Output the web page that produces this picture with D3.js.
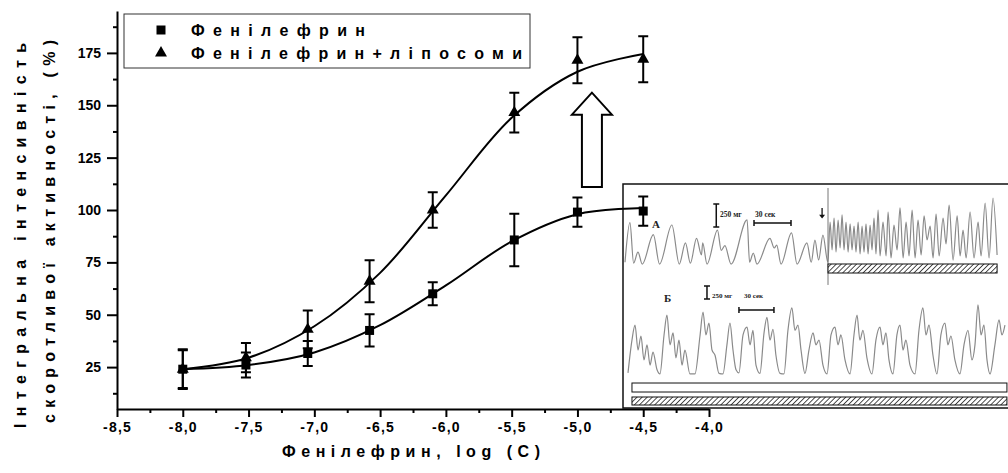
<!DOCTYPE html>
<html>
<head>
<meta charset="utf-8">
<script src="https://cdn.jsdelivr.net/npm/d3@7"></script>
<style>
  body { margin: 0; background: #fff; }
  svg { display: block; font-family: "Liberation Sans", Arial, sans-serif; }
</style>
</head>
<body>
<svg id="chart" width="1008" height="473"></svg>
<script>
// --- data ---
const logC = [-8.0, -7.52, -7.05, -6.58, -6.1, -5.48, -5.0, -4.5];
const phenyl = [24, 26, 31.5, 42.5, 60, 85.7, 99, 99.5];
const phenylErr = [9, 6, 6, 7.7, 5.5, 12.5, 7, 7];
const phenylLipo = [24, 29.5, 43, 66, 100, 146.5, 171.5, 172];
const phenylLipoErr = [9.5, 7, 9, 10, 8.5, 9.5, 11, 11];

// fitted curves, read at half-log steps
const fitX = [-8, -7.5, -7, -6.5, -6, -5.5, -5, -4.5];
const fitPhenyl = [24, 26, 32, 45, 64, 85, 98, 101];
const fitPhenylLipo = [24, 29.5, 44.5, 70, 107, 144, 166, 174.5];

const seriesNames = ['Фенілефрин', 'Фенілефрин+ліпосоми'];
const xTicks = [-8.5, -8, -7.5, -7, -6.5, -6, -5.5, -5, -4.5, -4];
const xMinor = [-8.25, -7.75, -7.25, -6.75, -6.25, -5.75, -5.25, -4.75, -4.25];
const yTicks = [25, 50, 75, 100, 125, 150, 175];
const yMinor = [12.5, 37.5, 62.5, 87.5, 112.5, 137.5, 162.5, 187.5];
const xTitle = 'Фенілефрин, log (C)';
const yTitle = ['Інтегральна інтенсивність', 'скоротливої активності, (%)'];

// big arrow: log position, base, head start, tip (in %)
const arrowX = -4.89;
const arrowY = [111, 145.5, 156];

// inset recordings: [time, sec ; force, mg]
const traceA = [[0,30],[4,460],[7,20],[10.5,140],[14,10],[23,330],[28,10],[38,435],[44,10],[49,240],[53,20],[58,290],[62,110],[63,240],[66.5,10],[75,380],[78,160],[81,210],[86,10],[99,490],[101,30],[104,130],[107,10],[117.5,290],[121,185],[123,215],[126.5,10],[135,350],[139.5,10],[147.5,240],[151,30],[154,270],[157,55],[160.5,325],[164.5,30],
  [166.3,467],[167.9,163],[169.5,511],[171.1,141],[172.8,489],[174.4,185],[176,544],[177.6,163],[179.2,467],[180.9,141],[182.5,446],[184.1,163],[185.7,424],[187.3,141],[189,467],[190.6,120],[192.2,424],[193.8,141],[195.4,446],[197.1,120],[198.7,435],[200.3,163],[201.9,511],[203.5,120],[205.2,598],[206.8,98],[209.2,467],[211.7,98],[213.3,576],[215.7,76],[218.1,435],[220.6,163],[223,620],[225.5,76],[227.9,467],[230.3,98],[232.8,598],[235.2,76],[237.6,489],[240.1,109],[242.5,533],[244.9,272],[247.4,424],[249.8,76],[252.2,554],[254.7,98],[257.9,511],[260.3,228],[262.8,652],[266,54],[269.3,533],[271.7,98],[274.1,380],[276.6,76],[279.8,576],[283,76],[286.3,467],[288.7,98],[292,674],[295.2,76],[298.4,728],[301.7,109]];
const traceB = [[0,40],[3.4,670],[6,960],[8.6,480],[11.1,750],[13.7,290],[16.3,580],[18.9,190],[21.4,440],[24.9,100],[27.4,20],
  [30.9,770],[33.4,1150],[36,580],[38.6,810],[41.1,330],[43.7,670],[46.3,190],[48.8,480],[53.1,20],
  [57.4,20],[61.7,750],[64.3,1210],[66.8,770],[69.4,1000],[72,480],[74.6,380],[78,30],
  [81.4,20],[84.8,580],[87.4,1000],[90,480],[92.6,100],
  [95.1,40],[98.6,770],[102,920],[104.6,580],[107.1,860],[109.7,190],
  [113.1,30],[116.6,810],[119.1,1110],[121.7,670],[124.3,880],[126.8,380],[130.3,30],
  [133.7,20],[137.1,860],[140.5,1290],[143.1,860],[145.7,960],[148.3,480],[151.7,30],
  [155.1,480],[158.6,810],[161.1,580],[163.7,670],[167.1,190],[170.6,20],
  [174,770],[177.4,920],[180,580],[182.5,770],[186,290],[190.3,20],
  [193.7,770],[196.3,1150],[198.8,670],[201.4,860],[204.8,330],[209.1,20],
  [212.5,670],[216,920],[218.5,580],[221.1,810],[223.7,290],[227.1,20],
  [230.5,770],[233.1,960],[235.7,480],[238.2,670],[241.7,190],[246,20],
  [249.4,860],[252.8,1290],[255.4,770],[258,960],[261.4,380],[264.8,20],
  [268.2,770],[271.7,1000],[274.2,580],[276.8,750],[280.2,290],[284.5,20],
  [288,580],[291.4,860],[294.8,290],[297.4,580],[300,1350],[302.6,770],[305.1,960],[307.7,290],[310.3,20],
  [314.5,580],[318,1060],[320.5,770],[323.1,960]];
const drugT = 164.6;          // drug applied (trace A)
const hatchA = [164.6, 301.7];
const barsB = [3.4, 324.8];

const svg = d3.select('#chart');
const defs = svg.append('defs');
defs.append('pattern')
  .attr('id', 'hatch')
  .attr('patternUnits', 'userSpaceOnUse')
  .attr('width', 3.6).attr('height', 3.6)
  .attr('patternTransform', 'rotate(45)')
  .call(p => p.append('rect').attr('width', 3.6).attr('height', 3.6).attr('fill', '#fff'))
  .append('line')
  .attr('x1', 0).attr('y1', 0).attr('x2', 0).attr('y2', 3.6)
  .attr('stroke', '#222').attr('stroke-width', 1.6);

const x = d3.scaleLinear().domain([-8.5, -4.0]).range([117, 709]);
const y = d3.scaleLinear().domain([5, 195]).range([409, 11]);

// ---------- inset ----------
const inset = svg.append('g').attr('class', 'inset');
inset.append('rect')
  .attr('x', 623).attr('y', 184).attr('width', 400).attr('height', 224)
  .attr('fill', '#fff').attr('stroke', '#111').attr('stroke-width', 1.5);

const xA = d3.scaleLinear().domain([0, 300]).range([625, 995]);
const yA = d3.scaleLinear().domain([0, 500]).range([265, 219]);
const xB = d3.scaleLinear().domain([0, 300]).range([628, 978]);
const yB = d3.scaleLinear().domain([0, 1000]).range([375, 323]);

inset.append('path')
  .attr('d', d3.line().x(d => xA(d[0])).y(d => yA(d[1])).curve(d3.curveMonotoneX)(traceA))
  .attr('fill', 'none').attr('stroke', '#8a8a8a').attr('stroke-width', 1.2);
inset.append('path')
  .attr('d', d3.line().x(d => xB(d[0])).y(d => yB(d[1])).curve(d3.curveMonotoneX)(traceB))
  .attr('fill', 'none').attr('stroke', '#8a8a8a').attr('stroke-width', 1.2);

// drug marker line and arrow
inset.append('line')
  .attr('x1', xA(drugT)).attr('x2', xA(drugT))
  .attr('y1', yA(837)).attr('y2', yA(-217))
  .attr('stroke', '#777').attr('stroke-width', 1);
inset.append('line')
  .attr('x1', xA(159.8)).attr('x2', xA(159.8))
  .attr('y1', yA(620)).attr('y2', yA(530))
  .attr('stroke', '#111').attr('stroke-width', 1.3);
inset.append('path')
  .attr('d', `M${xA(159.8) - 3},${yA(545)} L${xA(159.8) + 3},${yA(545)} L${xA(159.8)},${yA(505)} Z`)
  .attr('fill', '#111');

inset.append('rect')
  .attr('x', xA(hatchA[0])).attr('width', xA(hatchA[1]) - xA(hatchA[0]))
  .attr('y', yA(11)).attr('height', yA(-87) - yA(11))
  .attr('fill', 'url(#hatch)').attr('stroke', '#111').attr('stroke-width', 1);

inset.append('rect')
  .attr('x', xB(barsB[0])).attr('width', xB(barsB[1]) - xB(barsB[0]))
  .attr('y', yB(-154)).attr('height', yB(-327) - yB(-154))
  .attr('fill', '#fff').attr('stroke', '#111').attr('stroke-width', 1);
inset.append('rect')
  .attr('x', xB(barsB[0])).attr('width', xB(barsB[1]) - xB(barsB[0]))
  .attr('y', yB(-423)).attr('height', yB(-577) - yB(-423))
  .attr('fill', 'url(#hatch)').attr('stroke', '#111').attr('stroke-width', 1);

// scale bars
const scaleBar = (g, sx, sy, t0, mg0, mg1, s0, s1, sAt) => {
  const cap = 3;
  g.append('path')
    .attr('d', `M${sx(t0) - cap},${sy(mg1)}H${sx(t0) + cap}M${sx(t0)},${sy(mg1)}V${sy(mg0)}M${sx(t0) - cap},${sy(mg0)}H${sx(t0) + cap}` +
      `M${sx(s0)},${sy(sAt) - cap}V${sy(sAt) + cap}M${sx(s0)},${sy(sAt)}H${sx(s1)}M${sx(s1)},${sy(sAt) - cap}V${sy(sAt) + cap}`)
    .attr('fill', 'none').attr('stroke', '#111').attr('stroke-width', 1.5);
};
scaleBar(inset, xA, yA, 74, 413, 663, 104.6, 134.6, 456);
scaleBar(inset, xB, yB, 67.7, 1461, 1711, 95.1, 125.1, 1250);

const serif = '"Liberation Serif", "DejaVu Serif", serif';
inset.append('text').attr('x', 720).attr('y', 217).attr('font-family', serif)
  .attr('font-weight', 'bold').attr('font-size', 7.5).attr('fill', '#222').text('250 мг');
inset.append('text').attr('x', 755).attr('y', 217).attr('font-family', serif)
  .attr('font-weight', 'bold').attr('font-size', 7.5).attr('fill', '#222').text('30 сек');
inset.append('text').attr('x', 712).attr('y', 298).attr('font-family', serif)
  .attr('font-weight', 'bold').attr('font-size', 7).attr('fill', '#222').text('250 мг');
inset.append('text').attr('x', 744).attr('y', 298).attr('font-family', serif)
  .attr('font-weight', 'bold').attr('font-size', 7).attr('fill', '#222').text('30 сек');
inset.append('text').attr('x', 652).attr('y', 228).attr('font-family', serif)
  .attr('font-weight', 'bold').attr('font-size', 11).attr('fill', '#222').text('А');
inset.append('text').attr('x', 664).attr('y', 302).attr('font-family', serif)
  .attr('font-weight', 'bold').attr('font-size', 11).attr('fill', '#222').text('Б');

// ---------- axes ----------
const fmt = d => d3.format('.1f')(d).replace('.', ',').replace('−', '-');

const xAxis = svg.append('g').attr('transform', 'translate(0,409)')
  .call(d3.axisBottom(x).tickValues(xTicks).tickSize(8).tickSizeOuter(0).tickPadding(5).tickFormat(fmt));
svg.append('g').attr('transform', 'translate(0,409)')
  .call(d3.axisBottom(x).tickValues(xMinor).tickSize(4).tickFormat(''))
  .call(g => g.select('.domain').remove());

const yAxis = svg.append('g').attr('transform', 'translate(117,0)')
  .call(d3.axisLeft(y).tickValues(yTicks).tickSize(10).tickSizeOuter(0).tickPadding(6));
svg.append('g').attr('transform', 'translate(117,0)')
  .call(d3.axisLeft(y).tickValues(yMinor).tickSize(4).tickFormat(''))
  .call(g => g.select('.domain').remove());

svg.selectAll('.domain, .tick line').attr('stroke', '#000').attr('stroke-width', 2);
svg.selectAll('.tick text')
  .attr('font-family', '"Liberation Sans", Arial, sans-serif')
  .attr('font-weight', 'bold').attr('font-size', 14).attr('fill', '#000');
xAxis.selectAll('.tick text').attr('letter-spacing', 1.2);

// axis titles
svg.append('text')
  .attr('x', 282).attr('y', 457)
  .attr('textLength', 258).attr('lengthAdjust', 'spacing')
  .attr('font-weight', 'bold').attr('font-size', 16)
  .text(xTitle);
svg.append('text')
  .attr('transform', 'translate(26,428) rotate(-90)')
  .attr('textLength', 385).attr('lengthAdjust', 'spacing')
  .attr('font-weight', 'bold').attr('font-size', 16)
  .text(yTitle[0]);
svg.append('text')
  .attr('transform', 'translate(55,423) rotate(-90)')
  .attr('textLength', 383).attr('lengthAdjust', 'spacing')
  .attr('font-weight', 'bold').attr('font-size', 16)
  .text(yTitle[1]);

// ---------- big hollow arrow ----------
const ax = x(arrowX);
svg.append('path')
  .attr('d', `M${ax - 10},${y(arrowY[0])} V${y(arrowY[1])} H${ax - 20} L${ax},${y(arrowY[2])} L${ax + 20},${y(arrowY[1])} H${ax + 10} V${y(arrowY[0])} Z`)
  .attr('fill', '#fff').attr('stroke', '#000').attr('stroke-width', 2);

// ---------- fitted curves ----------
const fitLine = d3.line().x(d => x(d[0])).y(d => y(d[1])).curve(d3.curveCatmullRom);
[fitPhenyl, fitPhenylLipo].forEach(vals => {
  svg.append('path')
    .attr('d', fitLine(fitX.map((v, i) => [v, vals[i]])))
    .attr('fill', 'none').attr('stroke', '#000').attr('stroke-width', 2);
});

// ---------- error bars + markers ----------
const drawSeries = (vals, errs, symbol, size) => {
  const pts = logC.map((c, i) => ({ c, v: vals[i], e: errs[i] }));
  const g = svg.append('g');
  g.selectAll('path.err')
    .data(pts)
    .join('path')
    .attr('class', 'err')
    .attr('d', d => {
      const cx = x(d.c), hi = y(d.v + d.e), lo = y(d.v - d.e);
      return `M${cx - 5},${hi}H${cx + 5}M${cx},${hi}V${lo}M${cx - 5},${lo}H${cx + 5}`;
    })
    .attr('fill', 'none').attr('stroke', '#000').attr('stroke-width', 2);
  g.selectAll('path.mark')
    .data(pts)
    .join('path')
    .attr('class', 'mark')
    .attr('transform', d => `translate(${x(d.c)},${y(d.v)})`)
    .attr('d', d3.symbol().type(symbol).size(size))
    .attr('fill', '#000');
};
drawSeries(phenyl, phenylErr, d3.symbolSquare, 81);
drawSeries(phenylLipo, phenylLipoErr, d3.symbolTriangle, 62);

// ---------- legend ----------
const legend = svg.append('g');
legend.append('rect')
  .attr('x', 124).attr('y', 14).attr('width', 406).attr('height', 54)
  .attr('fill', '#fff').attr('stroke', '#333').attr('stroke-width', 1);
const legendRows = [
  { name: seriesNames[0], sym: d3.symbolSquare, size: 81, cy: 30, len: 174 },
  { name: seriesNames[1], sym: d3.symbolTriangle, size: 62, cy: 53, len: 331 },
];
legendRows.forEach(r => {
  legend.append('path')
    .attr('transform', `translate(161,${r.cy})`)
    .attr('d', d3.symbol().type(r.sym).size(r.size))
    .attr('fill', '#000');
  legend.append('text')
    .attr('x', 191).attr('y', r.cy + 6)
    .attr('textLength', r.len).attr('lengthAdjust', 'spacing')
    .attr('font-weight', 'bold').attr('font-size', 16)
    .text(r.name);
});
</script>
</body>
</html>
